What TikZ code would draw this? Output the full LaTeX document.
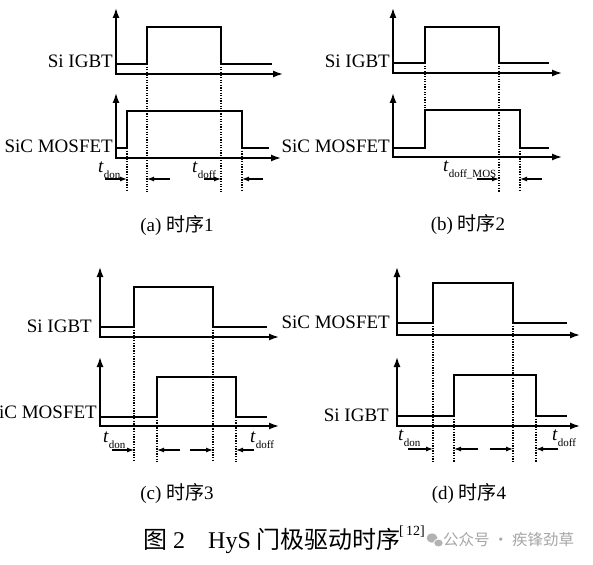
\documentclass[tikz,border=0pt]{standalone}
\usepackage{fontspec}
\setmainfont{Liberation Serif}
\newfontfamily\cjk{Noto Sans CJK SC}
\usetikzlibrary{arrows.meta}
\newcommand\myaxes[4]{\draw[ax] (#1,#2) -- (#1,#3) -- (#4,#3);}
\newcommand\mysig[6]{\draw[sig] (#1,#2) -- (#4,#2) -- (#4,#3) -- (#5,#3) -- (#5,#2) -- (#6,#2);}
\newcommand\tsub[1]{\textit{t}\raisebox{-6pt}{\fontsize{11}{11}\selectfont #1}}
\begin{document}
\begin{tikzpicture}[x=1pt,y=-1pt,
  sig/.style={line width=1.5pt},
  ax/.style={line width=1.5pt,{Latex[length=10pt,width=7pt]}-{Latex[length=10pt,width=7pt]}},
  dotln/.style={line width=1.3pt,dash pattern=on 1.3pt off 1.3pt},
  tarr/.style={line width=1.2pt,-{Latex[length=7pt,width=5pt]}},
  lbl/.style={inner sep=0pt,anchor=base east,font=\fontsize{19}{19}\selectfont},
  tl/.style={inner sep=0pt,anchor=base west,font=\fontsize{19}{19}\selectfont},
  subcap/.style={inner sep=0pt,anchor=base,font=\fontsize{19}{19}\selectfont}]
\useasboundingbox (0,0) rectangle (593,564);
\fill[white] (0,0) rectangle (593,564);

% ---------- panel (a)
\myaxes{116}{8}{74}{283}
\mysig{116}{64}{27}{147}{221}{272}
\myaxes{116}{93}{158}{281}
\mysig{116}{148}{111}{127}{242}{269}
\draw[dotln] (127,148) -- (127,192);
\draw[dotln] (147,64) -- (147,192);
\draw[dotln] (221,64) -- (221,192);
\draw[dotln] (242,148) -- (242,192);
\node[lbl] (a1) at (113,68) {Si IGBT};
\node[lbl] (a2) at (113,153) {SiC MOSFET};
\node[tl] (a3) at (98,172) {\tsub{don}};
\node[tl] (a4) at (192,172) {\tsub{doff}};
\coordinate (a5) at (105,179); \coordinate (a6) at (127,179);
\coordinate (a7) at (170,179); \coordinate (a8) at (147,179);
\coordinate (a9) at (204,179); \coordinate (a10) at (221,179);
\coordinate (a11) at (263,179); \coordinate (a12) at (242,179);
\draw[tarr] (a5) -- (a6);
\draw[tarr] (a7) -- (a8);
\draw[tarr] (a9) -- (a10);
\draw[tarr] (a11) -- (a12);
\node[subcap] (acap) at (177,231) {(a) {\cjk 时序}1};

% ---------- panel (b)
\myaxes{393}{8}{73}{562}
\mysig{393}{63}{27}{425}{499}{549}
\myaxes{393}{93}{157}{562}
\mysig{393}{148}{110}{425}{520}{549}
\draw[dotln] (425,63) -- (425,110);
\draw[dotln] (499,63) -- (499,192);
\draw[dotln] (520,148) -- (520,192);
\node[lbl] (b1) at (390,68) {Si IGBT};
\node[lbl] (b2) at (390,153) {SiC MOSFET};
\node[tl] (b3) at (443,171) {\tsub{doff\_MOS}};
\coordinate (b5) at (477,179); \coordinate (b6) at (499,179);
\coordinate (b7) at (542,179); \coordinate (b8) at (520,179);
\draw[tarr] (b5) -- (b6);
\draw[tarr] (b7) -- (b8);
\node[subcap] (bcap) at (468,230) {(b) {\cjk 时序}2};

% ---------- panel (c)
\myaxes{100}{267}{337}{279}
\mysig{100}{327}{287}{134}{213}{267}
\myaxes{100}{357}{426}{279}
\mysig{100}{417}{377}{157}{236}{267}
\draw[dotln] (134,327) -- (134,462);
\draw[dotln] (157,417) -- (157,462);
\draw[dotln] (213,327) -- (213,462);
\draw[dotln] (236,417) -- (236,462);
\node[lbl] (c1) at (92,332) {Si IGBT};
\node[lbl] (c2) at (97,418) {iC MOSFET};
\node[tl] (c3) at (103,442) {\tsub{don}};
\node[tl] (c4) at (250,442) {\tsub{doff}};
\coordinate (c5) at (112,450); \coordinate (c6) at (134,450);
\coordinate (c7) at (180,450); \coordinate (c8) at (157,450);
\coordinate (c9) at (190,450); \coordinate (c10) at (213,450);
\coordinate (c11) at (254,450); \coordinate (c12) at (236,450);
\draw[tarr] (c5) -- (c6);
\draw[tarr] (c7) -- (c8);
\draw[tarr] (c9) -- (c10);
\draw[tarr] (c11) -- (c12);
\node[subcap] (ccap) at (177,499) {(c) {\cjk 时序}3};

% ---------- panel (d)
\myaxes{397}{267}{335}{580}
\mysig{397}{323}{283}{433}{513}{567}
\myaxes{397}{357}{426}{580}
\mysig{397}{416}{375}{454}{536}{567}
\draw[dotln] (433,323) -- (433,462);
\draw[dotln] (454,416) -- (454,462);
\draw[dotln] (513,323) -- (513,462);
\draw[dotln] (536,416) -- (536,462);
\node[lbl] (d1) at (390,328) {SiC MOSFET};
\node[lbl] (d2) at (389,421) {Si IGBT};
\node[tl] (d3) at (398,440) {\tsub{don}};
\node[tl] (d4) at (552,440) {\tsub{doff}};
\coordinate (d5) at (408,449); \coordinate (d6) at (433,449);
\coordinate (d7) at (478,449); \coordinate (d8) at (454,449);
\coordinate (d9) at (490,449); \coordinate (d10) at (513,449);
\coordinate (d11) at (558,449); \coordinate (d12) at (536,449);
\draw[tarr] (d5) -- (d6);
\draw[tarr] (d7) -- (d8);
\draw[tarr] (d9) -- (d10);
\draw[tarr] (d11) -- (d12);
\node[subcap] (dcap) at (469,499) {(d) {\cjk 时序}4};

% ---------- figure caption
\node[inner sep=0pt,anchor=base west,font=\fontsize{24}{24}\selectfont] (f1) at (143,548) {{\cjk 图} 2};
\node[inner sep=0pt,anchor=base west,font=\fontsize{24}{24}\selectfont] (f2) at (208,548) {HyS {\cjk 门极驱动时序}};
\node[inner sep=0pt,anchor=base west,font=\fontsize{14}{14}\selectfont] (f3) at (399,535) {[\,12]};
% watermark
\fill[gray!60,draw=white,line width=0.8pt] (432,538) ellipse (6pt and 5pt);
\fill[gray!60,draw=white,line width=0.8pt] (438.5,543) ellipse (4.8pt and 4pt);
\node[inner sep=0pt,anchor=west,text=gray!70,font=\cjk\fontsize{15.5}{15.5}\selectfont] (w1) at (443,540) {公众号 · 疾锋劲草};
\end{tikzpicture}
\end{document}
